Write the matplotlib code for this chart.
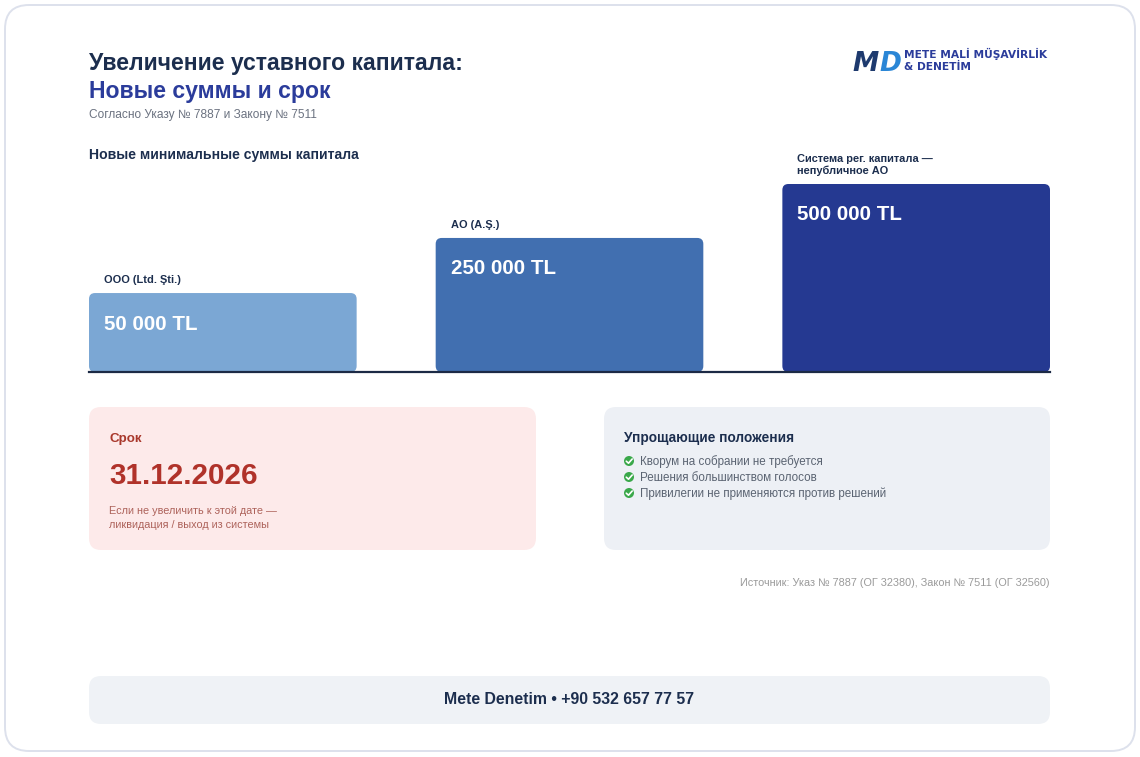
import matplotlib
matplotlib.use("Agg")
import matplotlib.pyplot as plt
from matplotlib.patches import FancyBboxPatch, Circle
from matplotlib.lines import Line2D

plt.rcParams['font.family'] = ['Liberation Sans', 'DejaVu Sans']

# ---------------- data ----------------
categories = ["OOO (Ltd. Şti.)", "AO (A.Ş.)", "Система рег. капитала —\nнепубличное АО"]
capital_tl = [50000, 250000, 500000]
value_labels = ["50 000 TL", "250 000 TL", "500 000 TL"]
bar_heights = [42, 71.3, 100]          # relative displayed heights
bar_colors = ["#7ba7d4", "#416fb0", "#253991"]
checklist = ["Кворум на собрании не требуется",
             "Решения большинством голосов",
             "Привилегии не применяются против решений"]
deadline = "31.12.2026"

W, H = 1140, 757
NAVY = "#1c2e4e"
INDIGO = "#2b3c9b"

fig = plt.figure(figsize=(W / 100, H / 100), dpi=100)
fig.patch.set_facecolor("white")

bg = fig.add_axes([0, 0, 1, 1])
bg.set_xlim(0, W)
bg.set_ylim(H, 0)
bg.axis("off")

def rbox(ax, x0, y0, x1, y1, r, fc, ec="none", lw=0, z=1):
    p = FancyBboxPatch((x0, y0), x1 - x0, y1 - y0,
                       boxstyle=f"round,pad=0,rounding_size={r}",
                       fc=fc, ec=ec, lw=lw, zorder=z)
    ax.add_patch(p)
    return p

# outer card
rbox(bg, 5, 5, 1135, 751, 24, "white", ec="#dde1ec", lw=1.4, z=0)

# header
bg.text(89, 70, "Увеличение уставного капитала:", fontsize=16.6, fontweight="bold",
        color=NAVY, va="baseline", ha="left")
bg.text(89, 98, "Новые суммы и срок", fontsize=16.6, fontweight="bold",
        color=INDIGO, va="baseline", ha="left")
bg.text(89, 118, "Согласно Указу № 7887 и Закону № 7511", fontsize=8.6,
        color="#6b7280", va="baseline", ha="left")
bg.text(89, 159, "Новые минимальные суммы капитала", fontsize=10.1, fontweight="bold",
        color=NAVY, va="baseline", ha="left")

# logo
bg.text(852, 71, "M", fontsize=19, fontweight="bold", style="italic",
        color="#1e3a6e", va="baseline", ha="left", family="DejaVu Sans")
bg.text(879, 71, "D", fontsize=19, fontweight="bold", style="italic",
        color="#2a86d6", va="baseline", ha="left", family="DejaVu Sans")
bg.text(904, 58, "METE MALİ MÜŞAVİRLİK", fontsize=7.7, fontweight="heavy",
        color=INDIGO, va="baseline", ha="left", family="DejaVu Sans")
bg.text(904, 70, "& DENETİM", fontsize=7.7, fontweight="heavy",
        color=INDIGO, va="baseline", ha="left", family="DejaVu Sans")

# ---------------- bar chart ----------------
ax_l, ax_r, ax_top, ax_bot = 89, 1050, 184, 372
ax = fig.add_axes([ax_l / W, 1 - ax_bot / H, (ax_r - ax_l) / W, (ax_bot - ax_top) / H])
ax.set_facecolor("none")
ax.axis("off")
n = len(categories)
width = 0.772
ax.set_xlim(-width / 2, n - 1 + width / 2)
ax.set_ylim(0, 100)
px_x = (ax_r - ax_l) / (n - 1 + width)
px_y = (ax_bot - ax_top) / 100.0
r_px = 6
for i, (h, c) in enumerate(zip(bar_heights, bar_colors)):
    x0 = i - width / 2
    p = FancyBboxPatch((x0, 0), width, h,
                       boxstyle=f"round,pad=0,rounding_size={r_px / px_x}",
                       mutation_aspect=px_x / px_y,
                       fc=c, ec="none", zorder=2, clip_on=False)
    ax.add_patch(p)
    ax.annotate(value_labels[i], (x0, h), xytext=(15 * 0.72, -31 * 0.72),
                textcoords="offset points", fontsize=14.8, fontweight="bold",
                color="white", ha="left", va="center", zorder=3, annotation_clip=False)
    ax.annotate(categories[i], (x0, h), xytext=(15 * 0.72, 8 * 0.72),
                textcoords="offset points", fontsize=7.9, fontweight="bold",
                color=NAVY, ha="left", va="bottom", linespacing=1.22,
                zorder=3, annotation_clip=False)
ax.axhline(0, color="#1c2a45", lw=1.6, zorder=4, clip_on=False)

# ---------------- deadline card ----------------
rbox(bg, 89, 407, 536, 550, 12, "#fdeaea")
bg.text(109, 442, "Срок", fontsize=9.6, fontweight="bold", color="#a9382c",
        va="baseline", ha="left")
bg.text(109, 484, deadline, fontsize=21.3, fontweight="bold", color="#b0322a",
        va="baseline", ha="left")
bg.text(109, 514, "Если не увеличить к этой дате —", fontsize=7.8, color="#ad625a",
        va="baseline", ha="left")
bg.text(109, 528, "ликвидация / выход из системы", fontsize=7.8, color="#ad625a",
        va="baseline", ha="left")

# ---------------- provisions card ----------------
rbox(bg, 604, 407, 1050, 550, 12, "#edf0f5")
bg.text(624, 442, "Упрощающие положения", fontsize=9.8, fontweight="bold", color=NAVY,
        va="baseline", ha="left")
for k, item in enumerate(checklist):
    cy = 461 + 16 * k
    bg.add_patch(Circle((629, cy), 5, fc="#3aa84a", ec="none", zorder=3))
    bg.add_line(Line2D([626.3, 628.5, 632.2], [cy + 0.2, cy + 2.2, cy - 2.0],
                       color="white", lw=1.2, zorder=4, solid_capstyle="round"))
    bg.text(640, cy + 4, item, fontsize=8.4, color="#5b6472", va="baseline", ha="left")

# source
bg.text(1050, 586, "Источник: Указ № 7887 (ОГ 32380), Закон № 7511 (ОГ 32560)",
        fontsize=7.8, color="#9a9a9a", va="baseline", ha="right")

# footer
rbox(bg, 89, 676, 1050, 724, 12, "#eff2f6")
bg.text(569.5, 700, "Mete Denetim • +90 532 657 77 57", fontsize=11.4, fontweight="bold",
        color=NAVY, va="center", ha="center")

fig.savefig("out.png", dpi=100, facecolor="white")
